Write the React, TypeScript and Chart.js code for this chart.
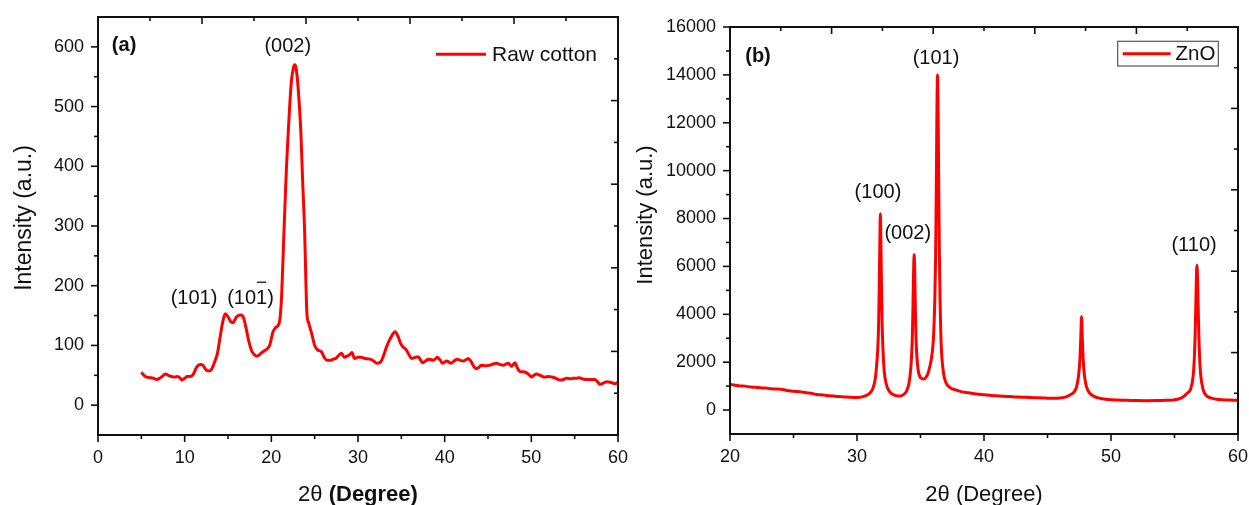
import React, { useEffect, useRef } from "react";
import { Chart, registerables } from "chart.js";
Chart.register(...registerables);

const FONT = "'Liberation Sans', Arial, Helvetica, sans-serif";
const INK = "#111111";
const RED = "#ff0000";

// ---------- Panel (a): raw cotton ----------
const cottonTheta = [
  5.0, 5.3, 5.6, 6.0, 6.4, 6.8, 7.1, 7.4, 7.8, 8.1, 8.5, 8.9, 9.2, 9.5, 9.7, 10.0, 10.3, 10.7, 11.0, 11.4,
  11.8, 12.1, 12.4, 12.8, 13.1, 13.4, 13.8, 14.1, 14.4, 14.7, 15.0, 15.3, 15.6, 15.9, 16.2, 16.5, 16.8, 17.1,
  17.4, 17.7, 18.0, 18.3, 18.6, 18.9, 19.2, 19.5, 19.8, 20.2, 20.5, 20.8, 21.0, 21.2, 21.45, 21.75, 22.0,
  22.3, 22.55, 22.7, 22.85, 23.1, 23.4, 23.6, 23.85, 24.0, 24.1, 24.3, 24.65, 25.0, 25.3, 25.8, 26.1, 26.4,
  26.8, 27.15, 27.5, 27.8, 28.1, 28.4, 28.7, 29.0, 29.3, 29.6, 30.0, 30.4, 30.8, 31.4, 31.8, 32.15, 32.6,
  33.0, 33.3, 33.6, 33.9, 34.27, 34.65, 34.9, 35.15, 35.55, 35.9, 36.2, 36.6, 36.96, 37.2, 37.5, 37.8, 38.2,
  38.7, 39.15, 39.5, 39.77, 40.0, 40.23, 40.5, 40.7, 41.1, 41.46, 41.8, 42.15, 42.45, 42.73, 43.0, 43.4,
  43.7, 44.0, 44.27, 44.7, 45.23, 45.6, 46.0, 46.4, 46.77, 47.1, 47.35, 47.73, 48.1, 48.4, 48.7, 49.1,
  49.47, 49.8, 50.04, 50.3, 50.6, 51.0, 51.57, 52.0, 52.35, 52.8, 53.3, 53.7, 54.08, 54.5, 54.85, 55.2,
  55.5, 55.9, 56.2, 56.8, 57.35, 57.6, 57.9, 58.3, 58.7, 59.2, 59.65, 60.0,
];
const cottonIntensity = [
  55, 50, 47, 46, 45, 43, 45, 48, 52, 50, 48, 47, 48, 45, 42, 45, 48, 48, 52, 64,
  68, 67, 60, 57, 60, 70, 88, 115, 140, 153, 148, 140, 138, 146, 150, 151, 146, 128,
  107, 92, 85, 82, 84, 88, 91, 94, 100, 123, 130, 134, 145, 187, 287, 400, 470,
  540, 565, 570, 565, 530, 460, 380, 287, 200, 154, 138, 120, 100, 93, 89, 80, 75,
  75, 77, 79, 84, 87, 80, 82, 84, 88, 78, 80, 80, 78, 77, 74, 70, 72,
  85, 98, 108, 116, 123, 114, 104, 98, 93, 84, 78, 80, 81, 76, 71, 74, 77,
  75, 80, 75, 70, 72, 74, 72, 70, 74, 77, 75, 74, 76, 78, 74, 64,
  61, 64, 67, 66, 67, 69, 70, 68, 67, 69, 70, 65, 71, 62, 56, 56,
  54, 50, 47, 50, 52, 50, 47, 48, 47, 45, 42, 43, 45, 44, 45, 45,
  46, 44, 43, 43, 43, 40, 35, 37, 39, 38, 36, 38,
];
const cottonXTicks = [0, 10, 20, 30, 40, 50, 60];
const cottonXMinor = [5, 15, 25, 35, 45, 55];
const cottonYTicks = [0, 100, 200, 300, 400, 500, 600];
const cottonYMinor = [50, 150, 250, 350, 450, 550];
const cottonPeakText = ["(101)", "(101)", "(002)"];
const cottonPeakX = [11.08, 17.6, 21.9];
const cottonPeakY = [179, 179, 600];
const cottonPeakBar = [false, true, false];

// ---------- Panel (b): ZnO ----------
const znoTheta = [
  20.0, 20.4, 20.8, 21.2, 21.6, 22.0, 22.4, 22.8, 23.2, 23.6, 24.0, 24.4, 24.8, 25.2, 25.6, 26.0, 26.4,
  26.8, 27.2, 27.6, 28.0, 28.4, 28.8, 29.2, 29.6, 30.0, 30.3, 30.6, 30.9, 31.1, 31.3, 31.45, 31.55, 31.64,
  31.7, 31.75, 31.8, 31.84, 31.88, 31.93, 31.98, 32.04, 32.14, 32.3, 32.5, 32.8, 33.1, 33.4, 33.7, 33.95,
  34.15, 34.28, 34.35, 34.4, 34.45, 34.5, 34.55, 34.6, 34.65, 34.72, 34.82, 34.95, 35.1, 35.28, 35.45,
  35.6, 35.75, 35.9, 36.03, 36.13, 36.19, 36.24, 36.29, 36.34, 36.39, 36.44, 36.49, 36.54, 36.63, 36.8,
  37.0, 37.3, 37.7, 38.2, 38.8, 39.4, 40.0, 40.6, 41.2, 41.8, 42.4, 43.0, 43.6, 44.2, 44.8, 45.4, 46.0,
  46.4, 46.8, 47.1, 47.3, 47.45, 47.55, 47.62, 47.68, 47.74, 47.81, 47.91, 48.06, 48.3, 48.7, 49.2, 49.8,
  50.5, 51.2, 52.0, 52.8, 53.6, 54.3, 54.9, 55.3, 55.7, 56.0, 56.27, 56.47, 56.57, 56.62, 56.67, 56.72,
  56.77, 56.82, 56.87, 56.92, 56.97, 57.07, 57.27, 57.5, 57.9, 58.5, 59.2, 60.0,
];
const znoIntensity = [
  1070, 1040, 1010, 1000, 960, 950, 930, 920, 890, 880, 870, 830, 800, 780, 760, 720, 700,
  650, 640, 610, 590, 570, 560, 545, 530, 520, 540, 580, 660, 760, 980, 1350, 1900, 2600,
  3550, 5100, 7050, 8200, 7050, 5100, 3550, 2600, 1650, 1100, 820, 660, 600, 590, 660, 850,
  1300, 2100, 2900, 4080, 5600, 6500, 5600, 4080, 2950, 2200, 1650, 1400, 1320, 1300, 1380,
  1550, 1850, 2300, 3100, 4700, 6400, 9000, 12300, 14000, 12300, 9000, 6400, 4600, 2750, 1600,
  1150, 950, 850, 770, 720, 670, 640, 610, 590, 570, 550, 540, 520, 510, 500, 490, 500,
  540, 640, 760, 990, 1450, 2100, 3000, 3900, 3000, 2100, 1450, 990, 720, 560, 480, 440,
  420, 410, 395, 390, 395, 405, 420, 460, 560, 700, 880, 1430, 2270, 3040, 4140, 5410,
  6050, 5410, 4140, 3040, 2270, 1430, 830, 610, 500, 440, 420, 410,
];
const znoXTicks = [20, 30, 40, 50, 60];
const znoXMinor = [25, 35, 45, 55];
const znoYTicks = [0, 2000, 4000, 6000, 8000, 10000, 12000, 14000, 16000];
const znoYMinor = [1000, 3000, 5000, 7000, 9000, 11000, 13000, 15000];
const znoPeakText = ["(101)", "(100)", "(002)", "(110)"];
const znoPeakX = [36.22, 31.65, 34.0, 56.54];
const znoPeakY = [14670, 9080, 7380, 6880];
const znoPeakBar = [false, false, false, false];

const panels = [
  {
    key: "a",
    canvasLeft: 0,
    canvasWidth: 645,
    theta: cottonTheta,
    intensity: cottonIntensity,
    xMin: 0, xMax: 60, yMin: -50, yMax: 650,
    xTicks: cottonXTicks, xMinor: cottonXMinor, yTicks: cottonYTicks, yMinor: cottonYMinor,
    peakText: cottonPeakText, peakX: cottonPeakX, peakY: cottonPeakY, peakBar: cottonPeakBar,
    tag: "(a)", tagX: 1.6, tagY: 603,
    legend: "Raw cotton",
    legendBox: false,
    padding: { left: 0, right: 27, top: 17, bottom: 0 },
    yAxisWidth: 98, xAxisHeight: 70,
    yTitleFont: 23, yTitleX: 31, yTitleY: 218,
    boldDegree: true,
  },
  {
    key: "b",
    canvasLeft: 625,
    canvasWidth: 624,
    theta: znoTheta,
    intensity: znoIntensity,
    xMin: 20, xMax: 60, yMin: -1000, yMax: 16000,
    xTicks: znoXTicks, xMinor: znoXMinor, yTicks: znoYTicks, yMinor: znoYMinor,
    peakText: znoPeakText, peakX: znoPeakX, peakY: znoPeakY, peakBar: znoPeakBar,
    tag: "(b)", tagX: 21.2, tagY: 14760,
    legend: "ZnO",
    legendBox: true,
    padding: { left: 0, right: 11, top: 27, bottom: 0 },
    yAxisWidth: 105, xAxisHeight: 71,
    yTitleFont: 22, yTitleX: 27, yTitleY: 215,
    boldDegree: false,
  },
];

function makePlugin(p: any) {
  return {
    id: "frame_" + p.key,
    afterDatasetsDraw(chart: any) {
      const { ctx, chartArea: a, scales } = chart;
      const xs = scales.x;
      const ys = scales.y;
      const MAJ = 7;
      const MIN = 4;
      ctx.save();
      ctx.strokeStyle = INK;
      ctx.lineWidth = 2;
      ctx.strokeRect(a.left, a.top, a.right - a.left, a.bottom - a.top);
      ctx.lineWidth = 1.6;
      const seg = (x1: number, y1: number, x2: number, y2: number) => {
        ctx.beginPath();
        ctx.moveTo(x1, y1);
        ctx.lineTo(x2, y2);
        ctx.stroke();
      };
      p.xTicks.forEach((v: number) => { const x = xs.getPixelForValue(v); seg(x, a.bottom, x, a.bottom + MAJ); });
      p.xMinor.forEach((v: number) => { const x = xs.getPixelForValue(v); seg(x, a.bottom, x, a.bottom + MIN); });
      p.yTicks.forEach((v: number) => { const y = ys.getPixelForValue(v); seg(a.left, y, a.left - MAJ, y); });
      p.yMinor.forEach((v: number) => { const y = ys.getPixelForValue(v); seg(a.left, y, a.left - MIN, y); });
      for (let i = 1; i < 10; i++) {
        const len = i % 2 === 0 ? MAJ : MIN;
        const x = a.left + ((a.right - a.left) * i) / 10;
        seg(x, a.top, x, a.top + len);
        const y = a.top + ((a.bottom - a.top) * i) / 10;
        seg(a.right, y, a.right - len, y);
      }
      ctx.restore();
    },
    afterDraw(chart: any) {
      const { ctx, chartArea: a, scales } = chart;
      const xs = scales.x;
      const ys = scales.y;
      ctx.save();
      ctx.fillStyle = INK;
      ctx.textBaseline = "middle";
      // peak labels
      ctx.font = `20px ${FONT}`;
      ctx.textAlign = "left";
      p.peakText.forEach((t: string, i: number) => {
        const cx = xs.getPixelForValue(p.peakX[i]);
        const cy = ys.getPixelForValue(p.peakY[i]);
        const w = ctx.measureText(t).width;
        const x0 = cx - w / 2;
        ctx.fillText(t, x0, cy);
        if (p.peakBar[i]) {
          const b0 = x0 + ctx.measureText("(10").width;
          const b1 = x0 + ctx.measureText("(101").width;
          ctx.strokeStyle = INK;
          ctx.lineWidth = 1.3;
          ctx.beginPath();
          ctx.moveTo(b0 + 1, cy - 16);
          ctx.lineTo(b1 - 1, cy - 16);
          ctx.stroke();
        }
      });
      // panel tag
      ctx.font = `bold 20px ${FONT}`;
      ctx.fillText(p.tag, xs.getPixelForValue(p.tagX), ys.getPixelForValue(p.tagY));
      // legend
      if (p.legendBox) {
        ctx.strokeStyle = "#555555";
        ctx.lineWidth = 1.2;
        ctx.strokeRect(a.right - 120.3, a.top + 14.3, 100.6, 24.7);
        ctx.strokeStyle = RED;
        ctx.lineWidth = 3;
        ctx.beginPath();
        ctx.moveTo(a.right - 115.3, a.top + 26.8);
        ctx.lineTo(a.right - 67.3, a.top + 26.8);
        ctx.stroke();
        ctx.font = `20.5px ${FONT}`;
        ctx.fillText(p.legend, a.right - 62.5, a.top + 27.5);
      } else {
        ctx.strokeStyle = RED;
        ctx.lineWidth = 3;
        ctx.beginPath();
        ctx.moveTo(a.right - 182, a.top + 37.3);
        ctx.lineTo(a.right - 132, a.top + 37.3);
        ctx.stroke();
        ctx.font = `21px ${FONT}`;
        ctx.fillText(p.legend, a.right - 126, a.top + 38);
      }
      // x title
      ctx.textBaseline = "alphabetic";
      const cx = (a.left + a.right) / 2;
      const baseY = 501;
      const partA = "2\u03b8 ";
      const partB = "(Degree)";
      ctx.font = `22px ${FONT}`;
      const wA = ctx.measureText(partA).width;
      ctx.font = `${p.boldDegree ? "bold " : ""}22px ${FONT}`;
      const wB = ctx.measureText(partB).width;
      const sx = cx - (wA + wB) / 2;
      ctx.font = `22px ${FONT}`;
      ctx.fillText(partA, sx, baseY);
      ctx.font = `${p.boldDegree ? "bold " : ""}22px ${FONT}`;
      ctx.fillText(partB, sx + wA, baseY);
      // y title
      ctx.translate(p.yTitleX, p.yTitleY);
      ctx.rotate(-Math.PI / 2);
      ctx.textAlign = "center";
      ctx.font = `${p.yTitleFont}px ${FONT}`;
      ctx.fillText("Intensity (a.u.)", 0, 0);
      ctx.restore();
    },
  };
}

const zeroPad = (s: any) => {
  s.paddingLeft = 0;
  s.paddingRight = 0;
  s.paddingTop = 0;
  s.paddingBottom = 0;
};

function Panel({ p }: { p: any }) {
  const ref = useRef<HTMLCanvasElement | null>(null);
  useEffect(() => {
    const points = p.theta.map((t: number, i: number) => ({ x: t, y: p.intensity[i] }));
    const chart = new Chart(ref.current as HTMLCanvasElement, {
      type: "line",
      data: {
        datasets: [
          {
            label: p.legend,
            data: points,
            borderColor: RED,
            backgroundColor: RED,
            borderWidth: 3,
            pointRadius: 0,
            fill: false,
            cubicInterpolationMode: "monotone",
          },
        ],
      },
      options: {
        responsive: false,
        animation: false,
        devicePixelRatio: 1,
        layout: { padding: p.padding },
        plugins: { legend: { display: false }, tooltip: { enabled: false }, title: { display: false } },
        scales: {
          x: {
            type: "linear",
            min: p.xMin,
            max: p.xMax,
            afterBuildTicks: (s: any) => { s.ticks = p.xTicks.map((v: number) => ({ value: v })); },
            afterFit: (s: any) => { s.height = p.xAxisHeight; zeroPad(s); },
            grid: { display: false, drawTicks: false },
            border: { display: false },
            ticks: {
              font: { family: FONT, size: 18 }, color: INK, padding: 12, maxRotation: 0, autoSkip: false,
              callback: (v: any) => String(v),
            },
          },
          y: {
            type: "linear",
            min: p.yMin,
            max: p.yMax,
            afterBuildTicks: (s: any) => { s.ticks = p.yTicks.map((v: number) => ({ value: v })); },
            afterFit: (s: any) => { s.width = p.yAxisWidth; zeroPad(s); },
            grid: { display: false, drawTicks: false },
            border: { display: false },
            ticks: {
              font: { family: FONT, size: 18 }, color: INK, padding: 14, autoSkip: false,
              callback: (v: any) => String(v),
            },
          },
        },
      },
      plugins: [makePlugin(p)],
    } as any);
    return () => chart.destroy();
  }, []);
  return (
    <canvas
      ref={ref}
      width={p.canvasWidth}
      height={505}
      style={{ position: "absolute", left: p.canvasLeft, top: 0, width: p.canvasWidth, height: 505 }}
    />
  );
}

export default function App() {
  return (
    <div style={{ position: "absolute", left: 0, top: 0, width: 1249, height: 505, background: "#ffffff", overflow: "hidden" }}>
      {panels.map((p) => (
        <Panel key={p.key} p={p} />
      ))}
    </div>
  );
}
